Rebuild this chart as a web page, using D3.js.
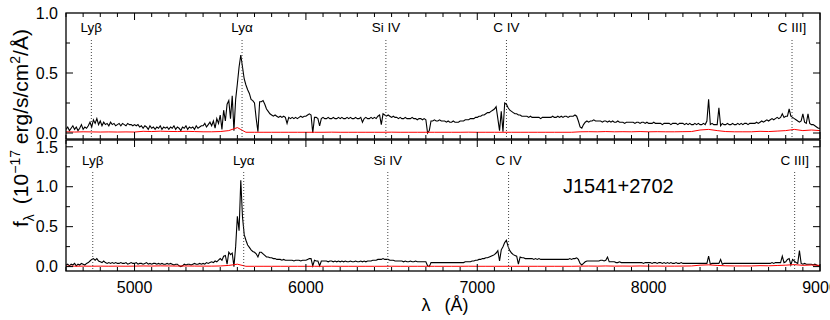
<!DOCTYPE html>
<html><head><meta charset="utf-8">
<script src="https://cdn.jsdelivr.net/npm/d3@7"></script>
<style>body{margin:0;background:#fff}svg{display:block}text{font-family:"Liberation Sans",Arial,Helvetica,sans-serif}</style>
</head><body><svg id="c" width="830" height="320"></svg>
<script>
// ---- data ----
const waveStart = 4600, waveStep = 10;      // flux grid (Angstrom)
const errStart = 4600, errStep = 50;        // error grid (Angstrom)

const fluxTop = [
0.03,0.05,0.02,0.04,0.06,0.03,0.05,0.02,0.04,0.07,0.03,0.05,0.04,0.06,0.09,0.05,0.11,0.08,0.12,0.07,
0.10,0.06,0.09,0.07,0.08,0.06,0.09,0.07,0.08,0.06,0.07,0.08,0.06,0.08,0.07,0.06,0.08,0.07,0.07,0.06,
0.07,0.06,0.07,0.05,0.06,0.04,0.06,0.05,0.03,0.06,0.04,0.05,0.03,0.05,0.04,0.06,0.03,0.05,0.04,0.05,
0.03,0.05,0.04,0.06,0.03,0.05,0.04,0.02,0.05,0.04,0.06,0.03,0.05,0.04,0.05,0.03,0.06,0.04,0.05,0.06,
0.06,0.08,0.05,0.07,0.09,0.06,0.10,0.04,0.12,0.08,0.15,0.03,0.19,0.10,0.24,0.27,0.12,0.31,0.02,0.28,
0.41,0.55,0.65,0.55,0.45,0.40,0.36,0.33,0.28,0.27,0.25,0.12,0.01,0.26,0.26,0.27,0.24,0.20,0.18,0.16,
0.15,0.14,0.15,0.14,0.13,0.14,0.13,0.14,0.13,0.08,0.13,0.12,0.13,0.12,0.13,0.12,0.13,0.14,0.13,0.14,
0.14,0.15,0.16,0.15,0.00,0.13,0.13,0.12,0.06,0.12,0.13,0.12,0.12,0.13,0.12,0.12,0.13,0.12,0.12,0.13,
0.12,0.13,0.12,0.12,0.13,0.12,0.13,0.12,0.12,0.13,0.12,0.12,0.13,0.09,0.12,0.13,0.12,0.12,0.13,0.12,
0.13,0.12,0.14,0.15,0.07,0.16,0.15,0.14,0.15,0.14,0.13,0.14,0.13,0.13,0.12,0.13,0.12,0.12,0.13,0.12,
0.12,0.12,0.13,0.12,0.12,0.11,0.12,0.12,0.11,0.12,0.11,0.00,0.02,0.10,0.10,0.11,0.10,0.10,0.11,0.10,
0.10,0.10,0.09,0.10,0.09,0.09,0.10,0.09,0.09,0.09,0.10,0.10,0.10,0.11,0.11,0.11,0.12,0.12,0.12,0.13,
0.13,0.14,0.14,0.15,0.15,0.16,0.17,0.17,0.18,0.19,0.20,0.22,0.12,0.02,0.18,0.01,0.25,0.24,0.21,0.19,
0.18,0.17,0.16,0.16,0.15,0.15,0.14,0.14,0.14,0.14,0.13,0.14,0.13,0.13,0.13,0.13,0.13,0.12,0.13,0.13,
0.13,0.13,0.13,0.13,0.14,0.13,0.13,0.14,0.13,0.14,0.13,0.14,0.14,0.13,0.14,0.14,0.14,0.15,0.14,0.10,
0.05,0.04,0.07,0.09,0.10,0.09,0.10,0.10,0.11,0.10,0.10,0.10,0.10,0.09,0.10,0.10,0.09,0.10,0.09,0.10,
0.09,0.09,0.10,0.09,0.09,0.09,0.08,0.09,0.09,0.09,0.09,0.09,0.08,0.09,0.09,0.08,0.09,0.09,0.08,0.09,
0.08,0.08,0.08,0.09,0.08,0.08,0.08,0.08,0.07,0.08,0.08,0.08,0.08,0.07,0.08,0.08,0.08,0.07,0.08,0.08,
0.08,0.07,0.08,0.07,0.08,0.07,0.07,0.08,0.07,0.08,0.07,0.07,0.08,0.07,0.10,0.28,0.07,0.08,0.07,0.07,
0.07,0.21,0.06,0.08,0.07,0.07,0.08,0.07,0.07,0.08,0.07,0.07,0.08,0.07,0.08,0.07,0.08,0.08,0.07,0.08,
0.08,0.08,0.08,0.09,0.08,0.09,0.10,0.09,0.10,0.11,0.10,0.11,0.12,0.11,0.12,0.13,0.12,0.13,0.16,0.13,
0.14,0.14,0.20,0.14,0.13,0.12,0.11,0.10,0.09,0.10,0.16,0.09,0.08,0.16,0.08,0.07,0.07,0.06,0.05,0.04,
0.04];

const fluxBot = [
0.02,0.03,0.01,0.03,0.02,0.04,0.01,0.03,0.02,0.04,0.03,0.02,0.04,0.05,0.07,0.09,0.10,0.08,0.10,0.07,
0.06,0.05,0.07,0.05,0.04,0.05,0.04,0.05,0.04,0.05,0.04,0.04,0.05,0.04,0.04,0.05,0.03,0.04,0.05,0.04,
0.04,0.05,0.03,0.04,0.04,0.03,0.04,0.05,0.03,0.04,0.03,0.04,0.04,0.03,0.04,0.03,0.04,0.03,0.03,0.04,
0.03,0.04,0.03,0.02,0.03,0.03,0.01,0.00,0.01,0.03,0.02,0.03,0.03,0.02,0.03,0.04,0.03,0.03,0.04,0.03,
0.04,0.03,0.05,0.04,0.05,0.06,0.05,0.07,0.06,0.08,0.10,0.08,0.13,0.14,0.03,0.18,0.15,0.17,0.00,0.25,
0.63,0.45,1.08,0.62,0.40,0.33,0.27,0.24,0.21,0.19,0.18,0.16,0.12,0.18,0.18,0.16,0.14,0.12,0.12,0.11,
0.11,0.10,0.10,0.09,0.09,0.09,0.08,0.09,0.08,0.08,0.08,0.08,0.08,0.07,0.08,0.08,0.08,0.07,0.08,0.08,
0.08,0.09,0.10,0.10,0.01,0.08,0.07,0.07,0.01,0.07,0.07,0.07,0.07,0.06,0.07,0.07,0.06,0.07,0.06,0.07,
0.06,0.07,0.06,0.07,0.06,0.06,0.07,0.06,0.06,0.07,0.06,0.06,0.07,0.06,0.07,0.06,0.07,0.07,0.07,0.08,
0.08,0.08,0.09,0.09,0.09,0.10,0.09,0.09,0.09,0.08,0.08,0.08,0.07,0.07,0.07,0.07,0.07,0.06,0.07,0.06,
0.06,0.07,0.06,0.06,0.07,0.06,0.06,0.06,0.06,0.06,0.06,0.01,0.00,0.05,0.05,0.05,0.05,0.05,0.05,0.05,
0.05,0.05,0.05,0.05,0.05,0.05,0.05,0.05,0.05,0.05,0.05,0.05,0.05,0.06,0.06,0.06,0.06,0.07,0.07,0.08,
0.08,0.09,0.09,0.10,0.10,0.11,0.11,0.12,0.13,0.14,0.15,0.17,0.20,0.07,0.21,0.25,0.30,0.33,0.25,0.20,
0.17,0.15,0.14,0.13,0.03,0.12,0.11,0.11,0.10,0.10,0.10,0.10,0.10,0.09,0.10,0.09,0.10,0.09,0.09,0.09,
0.09,0.09,0.09,0.09,0.09,0.09,0.09,0.09,0.09,0.09,0.09,0.09,0.09,0.09,0.10,0.09,0.10,0.10,0.11,0.09,
0.04,0.02,0.04,0.06,0.07,0.07,0.07,0.07,0.07,0.07,0.07,0.07,0.08,0.08,0.07,0.08,0.12,0.06,0.06,0.06,
0.06,0.05,0.05,0.06,0.05,0.05,0.05,0.05,0.05,0.05,0.05,0.05,0.05,0.05,0.05,0.05,0.05,0.04,0.05,0.05,
0.05,0.05,0.04,0.05,0.05,0.04,0.05,0.05,0.04,0.05,0.04,0.05,0.04,0.05,0.04,0.04,0.05,0.04,0.04,0.05,
0.04,0.04,0.04,0.04,0.04,0.04,0.04,0.04,0.04,0.04,0.04,0.04,0.04,0.04,0.04,0.13,0.03,0.04,0.04,0.04,
0.04,0.04,0.09,0.03,0.04,0.04,0.04,0.04,0.04,0.04,0.04,0.04,0.04,0.04,0.04,0.04,0.04,0.04,0.04,0.04,
0.04,0.04,0.04,0.04,0.04,0.04,0.04,0.04,0.04,0.04,0.04,0.04,0.05,0.04,0.05,0.05,0.05,0.05,0.13,0.05,
0.06,0.09,0.10,0.02,0.09,0.07,0.05,0.04,0.20,0.04,0.03,0.04,0.03,0.03,0.03,0.03,0.02,0.03,0.02,0.01,
0.01];

const errTop = [
0.010,0.008,0.010,0.009,0.008,0.009,0.008,0.009,0.008,
0.014,0.012,0.015,0.013,0.012,0.014,0.012,0.010,
0.010,0.012,0.020,0.045,
0.006,0.006,0.006,0.006,0.006,0.006,0.006,0.006,
0.006,0.006,0.007,0.006,0.006,0.006,0.006,0.006,0.006,0.007,0.006,0.006,0.006,0.006,0.006,0.006,
0.006,0.006,0.007,0.006,0.006,0.006,0.006,0.006,0.006,0.006,0.006,0.006,0.006,0.006,0.006,
0.010,0.011,0.010,0.012,0.010,0.011,0.010,0.012,0.010,0.011,0.010,0.010,0.011,0.012,
0.025,0.030,0.020,0.012,0.010,0.010,0.010,0.014,0.012,0.016,0.020,0.030,0.020,0.025,0.020];

const errBot = [
0.006,0.005,0.006,0.005,0.006,0.005,0.006,0.005,0.006,
0.008,0.007,0.009,0.008,0.007,0.008,0.007,0.006,
0.006,0.008,0.015,0.030,
0.004,0.004,0.004,0.004,0.004,0.004,0.004,0.004,
0.004,0.004,0.005,0.004,0.004,0.004,0.004,0.004,0.004,0.005,0.004,0.004,0.004,0.004,0.004,0.004,
0.004,0.004,0.005,0.004,0.004,0.004,0.004,0.004,0.004,0.004,0.004,0.004,0.004,0.004,0.004,
0.006,0.007,0.006,0.008,0.006,0.007,0.006,0.008,0.006,0.007,0.006,0.006,0.007,0.008,
0.018,0.022,0.015,0.010,0.008,0.008,0.008,0.012,0.010,0.014,0.018,0.025,0.016,0.020,0.015];

const lineNames = ["Lyβ","Lyα","Si IV","C IV","C III]"];
const lineRest  = [1025.7, 1215.67, 1397.0, 1549.0, 1909.0];
const zTop = 3.629, zBot = 3.637;

const xTicksMajor = [5000,6000,7000,8000,9000];
const yTicksTop = [0.0,0.5,1.0];
const yTicksBot = [0.0,0.5,1.0,1.5];
const objectName = "J1541+2702";

// ---- drawing ----
const svg = d3.select("#c");
const x = d3.scaleLinear().domain([4600,9000]).range([66,820]);
const yTop = d3.scaleLinear().domain([-0.05,1.0]).range([139,13]);
const yBot = d3.scaleLinear().domain([-0.055,1.585]).range([271,140]);

function panel(id, y, flux, err, z, labelY, lineTop, yTicks, yMinor) {
  const [y0,y1] = y.range();
  svg.append("clipPath").attr("id","clip"+id).append("rect")
    .attr("x",66).attr("y",y1).attr("width",754).attr("height",y0-y1);
  const g = svg.append("g").attr("clip-path","url(#clip"+id+")");
  const fpts = flux.map((v,i)=>[waveStart+i*waveStep, v]);
  const epts = err.map((v,i)=>[errStart+i*errStep, v]);
  const line = d3.line().x(d=>x(d[0])).y(d=>y(d[1]));
  g.append("path").attr("d",line(fpts)).attr("fill","none").attr("stroke","#000").attr("stroke-width",1.1);
  g.append("path").attr("d",line(epts)).attr("fill","none").attr("stroke","#ff0000").attr("stroke-width",1);
  // emission line markers
  lineRest.forEach((r,i)=>{
    const lx = x(r*(1+z));
    svg.append("line").attr("x1",lx).attr("x2",lx).attr("y1",lineTop).attr("y2",y0)
      .attr("stroke","#444").attr("stroke-width",1).attr("stroke-dasharray","1,2");
    svg.append("text").attr("x",lx).attr("y",labelY).attr("text-anchor","middle")
      .attr("font-size",13.5).attr("fill","#000").text(lineNames[i]);
  });
  // axes (ticks inward)
  const minorX = d3.range(4600,9001,100);
  const addX = (yy, dir) => {
    minorX.forEach(v=>{
      const len = (v%1000===0)?7:4;
      svg.append("line").attr("x1",x(v)).attr("x2",x(v)).attr("y1",yy).attr("y2",yy+dir*len)
        .attr("stroke","#000").attr("stroke-width",1);
    });
  };
  addX(y0,-1); addX(y1,1);
  yMinor.forEach(v=>{
    const len = yTicks.includes(v)?7:4;
    svg.append("line").attr("x1",66).attr("x2",66+len).attr("y1",y(v)).attr("y2",y(v)).attr("stroke","#000");
    svg.append("line").attr("x1",820).attr("x2",820-len).attr("y1",y(v)).attr("y2",y(v)).attr("stroke","#000");
  });
  yTicks.forEach(v=>{
    svg.append("text").attr("x",58).attr("y",y(v)).attr("dy","0.36em").attr("text-anchor","end")
      .attr("font-size",16).text(d3.format(".1f")(v));
  });
  svg.append("rect").attr("x",66).attr("y",y1).attr("width",754).attr("height",y0-y1)
    .attr("fill","none").attr("stroke","#000").attr("stroke-width",1.3);
}

panel("T", yTop, fluxTop, errTop, zTop, 32, 40, yTicksTop, [0,0.25,0.5,0.75]);
panel("B", yBot, fluxBot, errBot, zBot, 165, 172, yTicksBot, [0,0.25,0.5,0.75,1.0,1.25,1.5]);

xTicksMajor.forEach(v=>{
  svg.append("text").attr("x",x(v)).attr("y",293).attr("text-anchor","middle")
    .attr("font-size",16).text(v);
});

svg.append("text").attr("x",563).attr("y",193).attr("font-size",20).text(objectName);

// axis titles
const xt = svg.append("text").attr("x",445).attr("y",311).attr("text-anchor","middle").attr("font-size",18);
xt.append("tspan").text("λ");
xt.append("tspan").attr("dx",14).text("(Å)");

const yt = svg.append("text").attr("transform","translate(28,128) rotate(-90)")
  .attr("text-anchor","middle").attr("font-size",21);
yt.append("tspan").text("f");
yt.append("tspan").attr("font-size",14).attr("dy",6).text("λ");
yt.append("tspan").attr("dy",-6).attr("dx",10).text("(10");
yt.append("tspan").attr("font-size",14).attr("dy",-8).text("−17");
yt.append("tspan").attr("dy",8).text(" erg/s/cm");
yt.append("tspan").attr("font-size",14).attr("dy",-8).text("2");
yt.append("tspan").attr("dy",8).text("/Å)");
</script></body></html>
